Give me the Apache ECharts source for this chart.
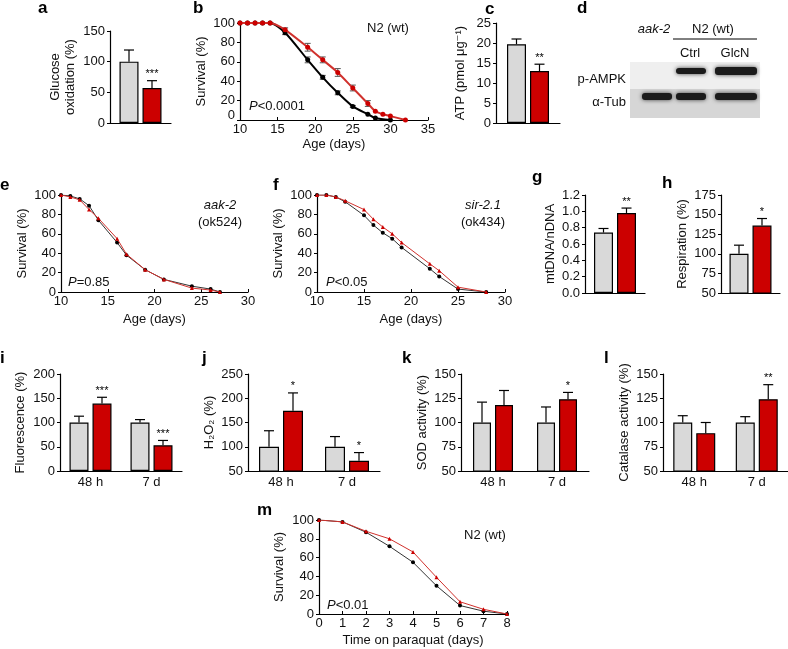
<!DOCTYPE html>
<html><head><meta charset="utf-8">
<script src="https://cdn.jsdelivr.net/npm/echarts/dist/echarts.min.js"></script>
<style>html,body{margin:0;padding:0;background:#fff}#c{width:788px;height:649px}</style>
</head><body><div id="c"></div><script>
// ---------------- DATA ----------------
// a: glucose oxidation (%)
const aCtrl = [100], aCtrlErr = [19], aTrt = [57], aTrtErr = [12], aStars = ['***'];
// b: survival N2 (wt)
const bAgeCtrl = [10,11,12,13,14,16,19,21,23,25,27,28,30];
const bCtrl    = [100,100,100,100,100,90,62,44,28,14,6,2,0];
const bCtrlErr = [0,0,0,0,0,2,3,2,2,1,0,0,0];
const bAgeTrt  = [10,11,12,13,14,16,19,21,23,25,27,28,29,30,32];
const bTrt     = [100,100,100,100,100,93,75,62,49,33,17,9,6,4,0];
const bTrtErr  = [0,0,0,0,0,2,4,3,4,3,3,0,0,0,0];
// c: ATP (pmol/ug)
const cCtrl = [19.7], cCtrlErr = [1.3], cTrt = [13], cTrtErr = [1.7], cStars = ['**'];
// e: aak-2 (ok524)
const eAge  = [10,11,12,13,14,16,17,19,21,24,26,27];
const eCtrl = [100,99,96,89,74,51,38,23,13,6,3,0];
const eTrt  = [100,98,95,85,76,55,39,23,13,4,2,0];
// f: sir-2.1 (ok434)
const fAge  = [10,11,12,13,15,16,17,18,19,22,23,25,28];
const fCtrl = [100,100,98,93,79,69,61,55,46,24,16,3,0];
const fTrt  = [100,100,98,94,85,75,67,60,51,29,22,5,0];
// g: mtDNA/nDNA
const gCtrl = [0.74], gCtrlErr = [0.05], gTrt = [0.98], gTrtErr = [0.06], gStars = ['**'];
// h: respiration (%)
const hCtrl = [100], hCtrlErr = [11], hTrt = [136], hTrtErr = [9], hStars = ['*'];
// i-l: two time points
const timeCats = ['48 h', '7 d'];
const iCtrl = [100,100], iCtrlErr = [13,6], iTrt = [139,53], iTrtErr = [13,10], iStars = ['***','***'];
const jCtrl = [100,100], jCtrlErr = [33,21], jTrt = [174,71], jTrtErr = [37,17], jStars = ['*','*'];
const kCtrl = [100,100], kCtrlErr = [21,16], kTrt = [118,124], kTrtErr = [15,7], kStars = ['','*'];
const lCtrl = [100,100], lCtrlErr = [7,6], lTrt = [89,124], lTrtErr = [11,15], lStars = ['','**'];
// m: paraquat survival
const mDays = [0,1,2,3,4,5,6,7,8];
const mCtrl = [100,98,87,72,55,30,9,3,0];
const mTrt  = [100,98,88,80,66,39,13,5,0];

// ---------------- STYLE / BUILD ----------------
const FONT = '"Liberation Sans", Arial, "DejaVu Sans", sans-serif';
const GRAY = '#d9d9d9', RED = '#cc0000', LRED = '#d0312d';
const opt = {animation:false, grid:[], xAxis:[], yAxis:[], series:[], graphic:[]};
const axLine = {show:true, onZero:false, lineStyle:{color:'#000', width:1.2}};
const lab = {color:'#111', fontFamily:FONT, fontSize:13};
const nameStyle = {color:'#111', fontFamily:FONT, fontSize:13, lineHeight:15};

function addGrid(r){ opt.grid.push({left:r[0], top:r[1], width:r[2], height:r[3], containLabel:false}); return opt.grid.length-1; }
function zip(xs, ys){ return xs.map((x,i)=>[x, ys[i]]); }

function barPanel(p){
  const g = addGrid(p.rect);
  opt.xAxis.push({type:'category', gridIndex:g, data:p.cats, axisLine:axLine, axisTick:{show:false},
    axisLabel:{...lab, margin:5}, splitLine:{show:false}});
  opt.yAxis.push({type:'value', gridIndex:g, min:p.min, max:p.max, interval:p.int, axisLine:axLine,
    axisTick:{show:true, length:3, lineStyle:{color:'#000'}}, axisLabel:{...lab, margin:5, formatter:p.fmt},
    splitLine:{show:false}, name:p.name, nameLocation:'middle', nameRotate:90, nameGap:p.gap, nameTextStyle:nameStyle});
  const xi = opt.xAxis.length-1, yi = opt.yAxis.length-1;
  const gap = 4, bw = p.bw;
  const common = {type:'bar', xAxisIndex:xi, yAxisIndex:yi, barWidth:bw, barGap:(gap/bw*100)+'%', silent:true};
  opt.series.push({...common, data:p.ctrl, itemStyle:{color:GRAY, borderColor:'#000', borderWidth:1.2}});
  opt.series.push({...common, data:p.trt, itemStyle:{color:RED, borderColor:'#000', borderWidth:1.2}});
  const off = (bw+gap)/2;
  const data = [], stars = [];
  p.ctrl.forEach((v,i)=>{ data.push([i, v, p.ctrlErr[i], -1]); stars.push(''); });
  p.trt.forEach((v,i)=>{ data.push([i, v, p.trtErr[i], 1]); stars.push(p.stars[i]||''); });
  opt.series.push({type:'custom', xAxisIndex:xi, yAxisIndex:yi, data, z:10, silent:true,
    renderItem:function(params, api){
      const c = api.value(0), v = api.value(1), e = api.value(2), side = api.value(3);
      const p0 = api.coord([c, v]), p1 = api.coord([c, v+e]);
      const x = p0[0] + side*off, cap = 5;
      const ch = [
        {type:'line', shape:{x1:x, y1:p0[1], x2:x, y2:p1[1]}, style:{stroke:'#000', lineWidth:1.2}},
        {type:'line', shape:{x1:x-cap, y1:p1[1], x2:x+cap, y2:p1[1]}, style:{stroke:'#000', lineWidth:1.2}}
      ];
      const s = stars[params.dataIndex];
      if (s) ch.push({type:'text', x:x, y:p1[1]-1, style:{text:s, fill:'#000', font:'11px '+FONT, align:'center', verticalAlign:'bottom'}});
      return {type:'group', children:ch};
    }});
}

function linePanel(p){
  const g = addGrid(p.rect);
  opt.xAxis.push({type:'value', gridIndex:g, min:p.xmin, max:p.xmax, interval:p.xint, axisLine:axLine,
    axisTick:{show:true, inside:true, length:3, lineStyle:{color:'#000'}}, axisLabel:{...lab, margin:3},
    splitLine:{show:false}, name:p.xname, nameLocation:'middle', nameGap:p.xgap, nameTextStyle:nameStyle});
  opt.yAxis.push({type:'value', gridIndex:g, min:0, max:100, interval:20, axisLine:axLine,
    axisTick:{show:true, length:3, lineStyle:{color:'#000'}},
    axisLabel:{...lab, margin:5, formatter: p.raise0 ? (v => v===0 ? '{z|0}' : String(v)) : undefined,
      rich:{z:{...lab, padding:[0,0,10,0]}}},
    splitLine:{show:false}, name:'Survival (%)', nameLocation:'middle', nameRotate:90, nameGap:p.ygap, nameTextStyle:nameStyle});
  const xi = opt.xAxis.length-1, yi = opt.yAxis.length-1;
  const lw = p.lw || 1, ms = p.ms || 4;
  opt.series.push({type:'line', xAxisIndex:xi, yAxisIndex:yi, data:zip(p.xc, p.ctrl), smooth:p.smooth||false,
    symbol:'circle', symbolSize:ms, lineStyle:{color:p.blk||'#333', width:lw}, itemStyle:{color:'#000'}, z:3, silent:true});
  opt.series.push({type:'line', xAxisIndex:xi, yAxisIndex:yi, data:zip(p.xt, p.trt), smooth:p.smooth||false,
    symbol:p.tsym||'triangle', symbolSize:ms, lineStyle:{color:LRED, width:lw}, itemStyle:{color:RED}, z:4, silent:true});
  if (p.errC) {
    const ed = [];
    p.xc.forEach((x,i)=>{ if (p.errC[i]) ed.push([x, p.ctrl[i], p.errC[i]]); });
    p.xt.forEach((x,i)=>{ if (p.errT[i]) ed.push([x, p.trt[i], p.errT[i]]); });
    opt.series.push({type:'custom', xAxisIndex:xi, yAxisIndex:yi, data:ed, z:2, silent:true,
      renderItem:function(params, api){
        const x = api.value(0), y = api.value(1), e = api.value(2);
        const a = api.coord([x, y-e]), b = api.coord([x, y+e]);
        const st = {stroke:'#555', lineWidth:1};
        return {type:'group', children:[
          {type:'line', shape:{x1:a[0], y1:a[1], x2:b[0], y2:b[1]}, style:st},
          {type:'line', shape:{x1:a[0]-3, y1:a[1], x2:a[0]+3, y2:a[1]}, style:st},
          {type:'line', shape:{x1:b[0]-3, y1:b[1], x2:b[0]+3, y2:b[1]}, style:st}]};
      }});
  }
}

// panels
barPanel({rect:[110,31,61,92], cats:[''], ctrl:aCtrl, ctrlErr:aCtrlErr, trt:aTrt, trtErr:aTrtErr, stars:aStars,
  min:0, max:150, int:50, name:'Glucose\noxidation (%)', gap:32, bw:19});
linePanel({rect:[240,23,188,97], xmin:10, xmax:35, xint:5, xname:'Age (days)', xgap:16, ygap:31,
  xc:bAgeCtrl, ctrl:bCtrl, xt:bAgeTrt, trt:bTrt, errC:bCtrlErr, errT:bTrtErr, lw:2, ms:5, smooth:0.25,
  tsym:'circle', blk:'#000', raise0:true});
barPanel({rect:[496,23,64,100], cats:[''], ctrl:cCtrl, ctrlErr:cCtrlErr, trt:cTrt, trtErr:cTrtErr, stars:cStars,
  min:0, max:25, int:5, name:'ATP (pmol μg⁻¹)', gap:28, bw:19});
linePanel({rect:[61,195,187,97], xmin:10, xmax:30, xint:5, xname:'Age (days)', xgap:20, ygap:29,
  xc:eAge, ctrl:eCtrl, xt:eAge, trt:eTrt});
linePanel({rect:[317,195,188,97], xmin:10, xmax:30, xint:5, xname:'Age (days)', xgap:20, ygap:27,
  xc:fAge, ctrl:fCtrl, xt:fAge, trt:fTrt});
barPanel({rect:[585,195,60,98], cats:[''], ctrl:gCtrl, ctrlErr:gCtrlErr, trt:gTrt, trtErr:gTrtErr, stars:gStars,
  min:0, max:1.2, int:0.2, name:'mtDNA/nDNA', gap:26, bw:19, fmt:v=>v.toFixed(1)});
barPanel({rect:[721,195,59,98], cats:[''], ctrl:hCtrl, ctrlErr:hCtrlErr, trt:hTrt, trtErr:hTrtErr, stars:hStars,
  min:50, max:175, int:25, name:'Respiration (%)', gap:31, bw:19});
barPanel({rect:[60,374,122,97], cats:timeCats, ctrl:iCtrl, ctrlErr:iCtrlErr, trt:iTrt, trtErr:iTrtErr, stars:iStars,
  min:0, max:200, int:50, name:'Fluorescence (%)', gap:32, bw:19});
barPanel({rect:[248,374,132,97], cats:timeCats, ctrl:jCtrl, ctrlErr:jCtrlErr, trt:jTrt, trtErr:jTrtErr, stars:jStars,
  min:50, max:250, int:50, name:'H₂O₂ (%)', gap:21, bw:20});
barPanel({rect:[461,374,128,97], cats:timeCats, ctrl:kCtrl, ctrlErr:kCtrlErr, trt:kTrt, trtErr:kTrtErr, stars:kStars,
  min:50, max:150, int:25, name:'SOD activity (%)', gap:31, bw:18});
barPanel({rect:[663,374,125,97], cats:timeCats, ctrl:lCtrl, ctrlErr:lCtrlErr, trt:lTrt, trtErr:lTrtErr, stars:lStars,
  min:50, max:150, int:25, name:'Catalase activity (%)', gap:29, bw:19});
linePanel({rect:[319,520,188,96], xmin:0, xmax:8, xint:1, xname:'Time on paraquat (days)', xgap:19, ygap:32,
  xc:mDays, ctrl:mCtrl, xt:mDays, trt:mTrt});

// ---------------- ANNOTATIONS ----------------
const G = opt.graphic;
function txt(x, y, text, o){ G.push({type:'text', x, y, silent:true, style:Object.assign({text, fill:'#111', font:'13px '+FONT, align:'left', verticalAlign:'middle'}, o||{})}); }
function ptxt(x, y, rest){ G.push({type:'text', x, y, silent:true, style:{text:'{i|P}{n|'+rest+'}', align:'left', verticalAlign:'middle',
  rich:{i:{fontFamily:FONT, fontSize:13, fontStyle:'italic', fill:'#111'}, n:{fontFamily:FONT, fontSize:13, fill:'#111'}}}}); }
const letters = [['a',38,8],['b',193,8],['c',485,9],['d',577,8],['e',0,185],['f',273,185],['g',532,177],['h',662,183],
  ['i',0,358],['j',202,358],['k',402,358],['l',604,358],['m',257,510]];
letters.forEach(l=>txt(l[1], l[2], l[0], {font:'bold 17px '+FONT, fill:'#000'}));
txt(388, 28, 'N2 (wt)', {align:'center'});
ptxt(249, 106, '<0.0001');
txt(220, 205, 'aak-2', {align:'center', font:'italic 13px '+FONT});
txt(220, 222, '(ok524)', {align:'center'});
ptxt(68, 282, '=0.85');
txt(483, 205, 'sir-2.1', {align:'center', font:'italic 13px '+FONT});
txt(483, 222, '(ok434)', {align:'center'});
ptxt(326, 282, '<0.05');
txt(485, 535, 'N2 (wt)', {align:'center'});
ptxt(327, 605, '<0.01');

// panel d: western blot
G.push({type:'rect', shape:{x:630, y:62, width:130, height:27}, style:{fill:'#efefef'}, silent:true});
G.push({type:'rect', shape:{x:630, y:89, width:130, height:29}, style:{fill:'#d6d6d6'}, silent:true});
const band = (x,y,w,h)=>G.push({type:'rect', shape:{x, y, width:w, height:h, r:3}, silent:true,
  style:{fill:'#1b1b1b', shadowBlur:4, shadowColor:'rgba(0,0,0,0.7)'}});
band(676,68,30,6); band(715,67,42,8);
band(642,93,30,7); band(676,93,30,7); band(715,93,42,7);
txt(654, 29, 'aak-2', {align:'center', font:'italic 13px '+FONT});
txt(713, 29, 'N2 (wt)', {align:'center'});
G.push({type:'line', shape:{x1:673, y1:39, x2:757, y2:39}, style:{stroke:'#000', lineWidth:1}, silent:true});
txt(690, 53, 'Ctrl', {align:'center'});
txt(735, 53, 'GlcN', {align:'center'});
txt(626, 79, 'p-AMPK', {align:'right'});
txt(626, 102, 'α-Tub', {align:'right'});

const chart = echarts.init(document.getElementById('c'), null, {renderer:'canvas'});
chart.setOption(opt);
</script></body></html>
